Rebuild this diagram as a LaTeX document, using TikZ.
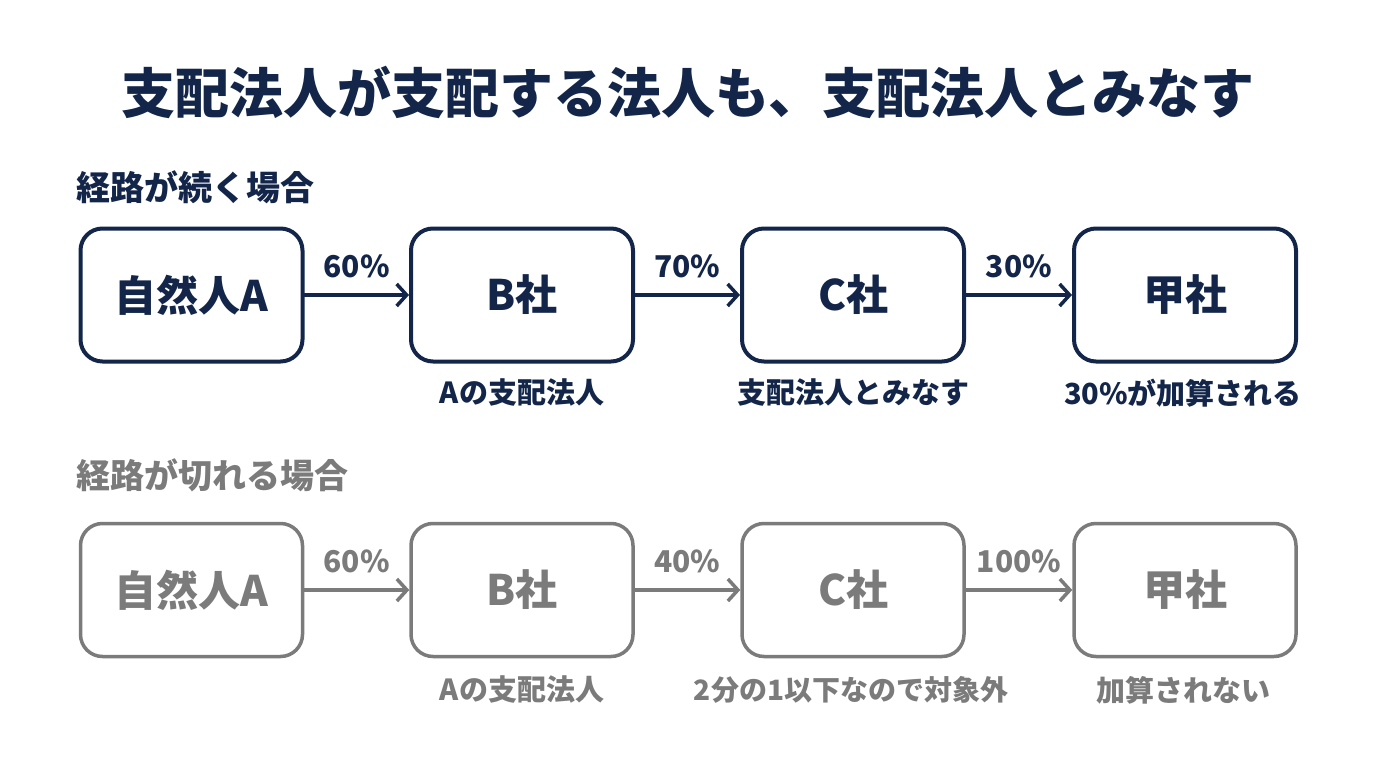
\documentclass[tikz,border=0pt]{standalone}
\usepackage{fontspec}
\setmainfont{Noto Sans CJK JP}
\usetikzlibrary{arrows.meta}
\definecolor{navy}{HTML}{13264A}
\definecolor{gry}{HTML}{7B7B7B}
\tikzset{
  box/.style={draw, line width=4pt, rounded corners=22pt, minimum width=222pt, minimum height=133pt, font=\fontsize{42}{46}\selectfont\bfseries},
  conn/.style={line width=3.5pt, line cap=round, line join=round, -{Straight Barb[length=10pt,width=22pt,line width=3.5pt]}},
  pct/.style={font=\fontsize{30}{34}\selectfont\bfseries, anchor=south},
  note/.style={font=\fontsize{29}{34}\selectfont\bfseries},
  sub/.style={font=\fontsize{34}{38}\selectfont\bfseries, anchor=west},
}
\begin{document}
\begin{tikzpicture}[x=1pt,y=-1pt]
\useasboundingbox[fill=white] (0,0) rectangle (1376,768);
\node[font=\fontsize{54}{60}\selectfont\bfseries, text=navy] (title) at (688,92) {支配法人が支配する法人も、支配法人とみなす};
% row 1
\node[sub, text=navy] (s1) at (73,187) {経路が続く場合};
\begin{scope}[navy]
\node[box] (a1) at (191.5,295) {自然人A};
\node[box] (b1) at (522,295) {B社};
\node[box] (c1) at (853,295) {C社};
\node[box] (d1) at (1185,295) {甲社};
\draw[conn] (a1.east) -- node[pct, above=12pt] {60\%} (b1.west);
\draw[conn] (b1.east) -- node[pct, above=12pt] {70\%} (c1.west);
\draw[conn] (c1.east) -- node[pct, above=12pt] {30\%} (d1.west);
\node[note] (nb1) at (522,393) {Aの支配法人};
\node[note] (nc1) at (853,393) {支配法人とみなす};
\node[note] (nd1) at (1183,393) {30\%が加算される};
\end{scope}
% row 2
\node[sub, text=gry] (s2) at (73,475) {経路が切れる場合};
\begin{scope}[gry]
\node[box, line width=3.5pt] (a2) at (191.5,590) {自然人A};
\node[box, line width=3.5pt] (b2) at (522,590) {B社};
\node[box, line width=3.5pt] (c2) at (853,590) {C社};
\node[box, line width=3.5pt] (d2) at (1185,590) {甲社};
\draw[conn] (a2.east) -- node[pct, above=12pt] {60\%} (b2.west);
\draw[conn] (b2.east) -- node[pct, above=12pt] {40\%} (c2.west);
\draw[conn] (c2.east) -- node[pct, above=12pt] {100\%} (d2.west);
\node[note] (nb2) at (522,690) {Aの支配法人};
\node[note, font=\fontsize{28}{34}\selectfont\bfseries] (nc2) at (851,690) {2分の1以下なので対象外};
\node[note] (nd2) at (1183,690) {加算されない};
\end{scope}
\end{tikzpicture}
\end{document}
